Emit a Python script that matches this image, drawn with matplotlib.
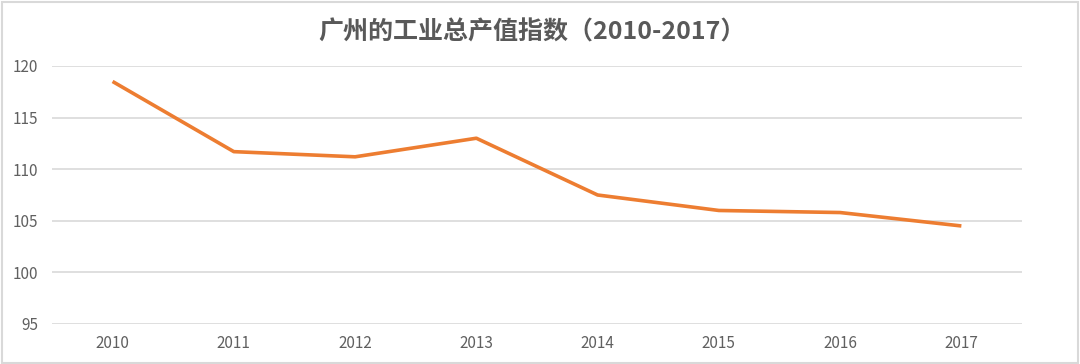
import matplotlib.pyplot as plt
from matplotlib.patches import Rectangle

plt.rcParams['font.family'] = ['Noto Sans CJK SC', 'DejaVu Sans']

years = ['2010', '2011', '2012', '2013', '2014', '2015', '2016', '2017']
index_values = [118.5, 111.7, 111.2, 113.0, 107.5, 106.0, 105.8, 104.5]
y_ticks = [95, 100, 105, 110, 115, 120]

fig = plt.figure(figsize=(10.8, 3.64), dpi=100)
ax = fig.add_axes([0.0481, 0.1099, 0.8982, 0.7088])

# light frame around the whole chart
fig.patches.append(Rectangle((0.002, 0.004), 0.996, 0.99, transform=fig.transFigure,
                             fill=False, edgecolor='#d9d9d9', linewidth=1.5))

x = range(len(years))
ax.plot(x, index_values, color='#ED7D31', linewidth=2.6, solid_joinstyle='round',
        solid_capstyle='butt', clip_on=False, zorder=3)

ax.set_xlim(-0.5, len(years) - 0.5)
ax.set_ylim(95, 120)
ax.set_yticks(y_ticks)
ax.set_xticks(list(x))
ax.set_xticklabels(years)

ax.grid(axis='y', color='#d9d9d9', linewidth=1.2)
ax.set_axisbelow(True)
for s in ax.spines.values():
    s.set_visible(False)
ax.tick_params(length=0, labelsize=11, labelcolor='#606060')
ax.tick_params(axis='y', pad=10)
ax.tick_params(axis='x', pad=8)

fig.text(0.493, 0.91, '广州的工业总产值指数（2010-2017）', ha='center', va='center',
         fontsize=18, fontweight='bold', color='#595959')

fig.savefig('out.png', dpi=100)
